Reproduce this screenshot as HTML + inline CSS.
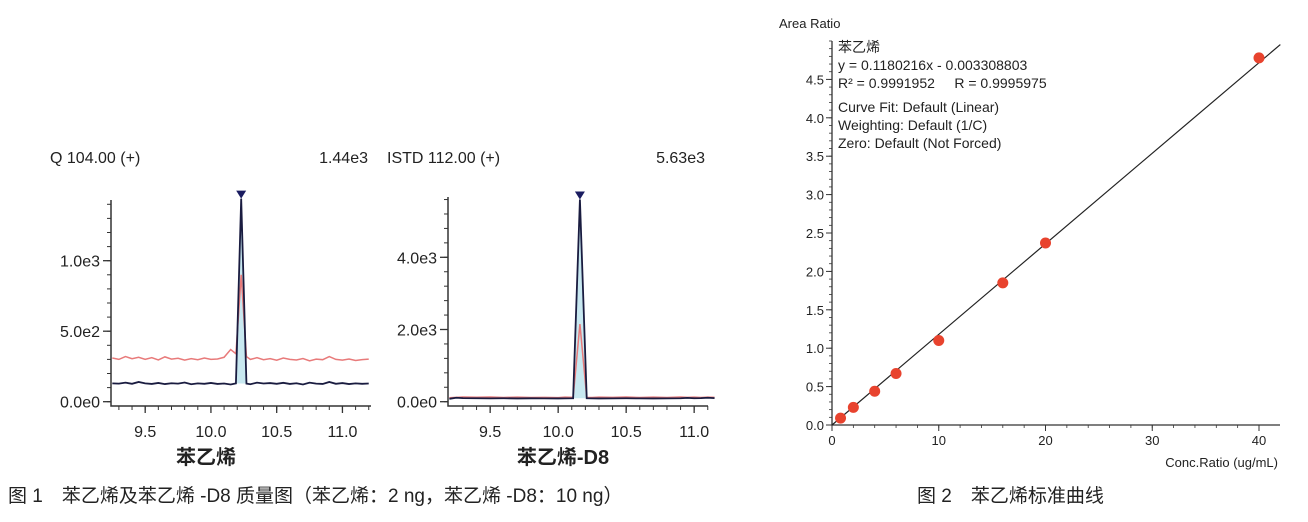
<!DOCTYPE html>
<html><head><meta charset="utf-8">
<style>
body{margin:0;background:#fff;width:1308px;height:517px;overflow:hidden;font-family:"Liberation Sans","Noto Sans CJK SC",sans-serif;}
svg text{font-family:"Liberation Sans","Noto Sans CJK SC",sans-serif;fill:#222;}
</style></head>
<body>
<svg id="svg" width="1308" height="517" viewBox="0 0 1308 517">
<g id="chromA"></g>
<g id="chromB"></g>
<g id="calib"></g>
<text x="8" y="502" font-size="19">图 1　苯乙烯及苯乙烯 -D8 质量图（苯乙烯：2 ng，苯乙烯 -D8：10 ng）</text>
<text x="917" y="502" font-size="19">图 2　苯乙烯标准曲线</text>
</svg>
<script>
// ---- Chromatogram A data (Q 104.00) ----
const aBlackT=[9.25,9.3,9.35,9.4,9.45,9.5,9.55,9.6,9.65,9.7,9.75,9.8,9.85,9.9,9.95,10.0,10.05,10.1,10.15,10.19,10.23,10.27,10.3,10.35,10.4,10.45,10.5,10.55,10.6,10.65,10.7,10.75,10.8,10.85,10.9,10.95,11.0,11.05,11.1,11.15,11.2];
const aBlackV=[130,128,135,127,140,130,126,133,125,131,128,136,124,130,127,133,126,129,122,130,1440,128,124,135,129,132,127,134,126,131,122,135,128,126,140,127,132,125,130,127,129];
const aRedT=[9.25,9.3,9.35,9.4,9.45,9.5,9.55,9.6,9.65,9.7,9.75,9.8,9.85,9.9,9.95,10.0,10.05,10.1,10.15,10.19,10.23,10.27,10.3,10.35,10.4,10.45,10.5,10.55,10.6,10.65,10.7,10.75,10.8,10.85,10.9,10.95,11.0,11.05,11.1,11.15,11.2];
const aRedV=[310,300,320,305,315,300,312,296,318,302,308,295,305,298,310,300,303,315,370,340,900,320,300,312,298,305,294,310,300,296,306,290,302,298,320,300,295,303,292,298,302];
const aTicksX=[9.5,10.0,10.5,11.0];
const aTickLabelsX=["9.5","10.0","10.5","11.0"];
const aTicksY=[0,500,1000];
const aTickLabelsY=["0.0e0","5.0e2","1.0e3"];
// ---- Chromatogram B data (ISTD 112.00) ----
const bBlackT=[9.2,9.25,9.3,9.4,9.5,9.6,9.7,9.8,9.9,10.0,10.05,10.11,10.16,10.21,10.25,10.3,10.4,10.5,10.6,10.7,10.8,10.9,10.95,11.0,11.05,11.1,11.15];
const bBlackV=[80,110,100,95,92,95,90,94,92,90,92,95,5600,95,92,90,93,95,92,90,92,95,105,95,98,110,100];
const bRedT=[9.2,9.25,9.3,9.4,9.5,9.6,9.7,9.8,9.9,10.0,10.05,10.11,10.16,10.21,10.25,10.3,10.4,10.5,10.6,10.7,10.8,10.9,10.95,11.0,11.05,11.1,11.15];
const bRedV=[110,120,130,125,130,118,128,115,120,112,125,120,2150,120,115,128,120,130,115,125,118,130,120,125,118,128,120];
const bTicksX=[9.5,10.0,10.5,11.0];
const bTickLabelsX=["9.5","10.0","10.5","11.0"];
const bTicksY=[0,2000,4000];
const bTickLabelsY=["0.0e0","2.0e3","4.0e3"];
// ---- Calibration data ----
const calX=[0.8,2,4,6,10,16,20,40];
const calY=[0.09,0.23,0.44,0.67,1.1,1.85,2.37,4.78];
const slope=0.1180216, intercept=-0.003308803;
const calTicksX=[0,10,20,30,40];
const calTicksY=[0,0.5,1,1.5,2,2.5,3,3.5,4,4.5];

const NS="http://www.w3.org/2000/svg";
function mk(parent,tag,attrs){const e=document.createElementNS(NS,tag);for(const k in attrs)e.setAttribute(k,attrs[k]);parent.appendChild(e);return e;}

function chrom(g,cfg){
  const sx=t=>cfg.x0+(t-cfg.t0)*cfg.pxT;
  const sy=v=>cfg.y0-v*cfg.pxV;
  let t=mk(g,'text',{x:cfg.titleX,y:163,'font-size':16});t.textContent=cfg.title;
  
  
  t=mk(g,'text',{x:cfg.maxX,y:163,'font-size':16,'text-anchor':'end'});t.textContent=cfg.max;
  
  
  let a=mk(g,'path',{d:`M${cfg.x0} ${cfg.top} V${cfg.axisY} H${cfg.x1}`,stroke:'#333','stroke-width':1.5,fill:'none'});
  
  
  for(let v=0;sy(v)>=cfg.top;v+=cfg.minorY){mk(g,'line',{x1:cfg.x0-4,x2:cfg.x0,y1:sy(v),y2:sy(v),stroke:'#333','stroke-width':1});}
  cfg.ticksY.forEach((v,i)=>{mk(g,'line',{x1:cfg.x0-8,x2:cfg.x0,y1:sy(v),y2:sy(v),stroke:'#333','stroke-width':1.3});
    const l=mk(g,'text',{x:cfg.x0-11,y:sy(v)+6,'font-size':16,'text-anchor':'end'});l.textContent=cfg.labelsY[i];
    
    });
  for(let tt=9.2;tt<=11.25;tt+=0.1){const x=sx(tt);if(x<cfg.x0+2||x>cfg.x1)continue;mk(g,'line',{x1:x,x2:x,y1:cfg.axisY,y2:cfg.axisY+4,stroke:'#333','stroke-width':1});}
  cfg.ticksX.forEach((v,i)=>{mk(g,'line',{x1:sx(v),x2:sx(v),y1:cfg.axisY,y2:cfg.axisY+7,stroke:'#333','stroke-width':1.3});
    const l=mk(g,'text',{x:sx(v),y:cfg.axisY+31,'font-size':16,'text-anchor':'middle'});l.textContent=cfg.labelsX[i];
    
    });
  const pi=cfg.bV.indexOf(Math.max(...cfg.bV));
  const f=mk(g,'polygon',{points:`${sx(cfg.bT[pi-1])},${sy(cfg.bV[pi-1])} ${sx(cfg.bT[pi])},${sy(cfg.bV[pi])} ${sx(cfg.bT[pi+1])},${sy(cfg.bV[pi+1])}`,fill:'#c8e8f0'});
  
  
  const r=mk(g,'polyline',{points:cfg.rT.map((tt,i)=>sx(tt)+','+sy(cfg.rV[i])).join(' '),fill:'none',stroke:'#e87a7a','stroke-width':1.5});
  
  
  const b=mk(g,'polyline',{points:cfg.bT.map((tt,i)=>sx(tt)+','+sy(cfg.bV[i])).join(' '),fill:'none',stroke:'#1a1c40','stroke-width':1.8});
  
  
  const px=sx(cfg.bT[pi]),py=sy(cfg.bV[pi]);
  const m=mk(g,'polygon',{points:`${px-5},${py-8} ${px+5},${py-8} ${px},${py}`,fill:'#1a1c60'});
  
  
  const n=mk(g,'text',{x:cfg.nameX,y:464,'font-size':20,'text-anchor':'middle','font-weight':'bold'});n.textContent=cfg.name;
  
  
}
chrom(document.getElementById('chromA'),{title:'Q 104.00 (+)',titleX:50,max:'1.44e3',maxX:368,x0:111,x1:371,t0:9.24,pxT:131.5,y0:401.7,pxV:0.141,top:200,axisY:406,minorY:100,ticksX:aTicksX,labelsX:aTickLabelsX,ticksY:aTicksY,labelsY:aTickLabelsY,bT:aBlackT,bV:aBlackV,rT:aRedT,rV:aRedV,name:'苯乙烯',nameX:206});
chrom(document.getElementById('chromB'),{title:'ISTD 112.00 (+)',titleX:387,max:'5.63e3',maxX:705,x0:448,x1:708,t0:9.19,pxT:136,y0:401.7,pxV:0.0361,top:197,axisY:406,minorY:400,ticksX:bTicksX,labelsX:bTickLabelsX,ticksY:bTicksY,labelsY:bTickLabelsY,bT:bBlackT,bV:bBlackV,rT:bRedT,rV:bRedV,name:'苯乙烯-D8',nameX:563});

(function(){
  const g=document.getElementById('calib');
  const X0=832,Y0=425,PX=10.675,PY=76.8,X1=1280,TOP=41;
  const sx=v=>X0+v*PX, sy=v=>Y0-v*PY;
  let t=mk(g,'text',{x:779,y:28,'font-size':13});t.textContent='Area Ratio';
  
  
  t=mk(g,'text',{x:1278,y:467,'font-size':13,'text-anchor':'end'});t.textContent='Conc.Ratio (ug/mL)';
  
  
  const ax=mk(g,'path',{d:`M${X0} ${TOP} V${Y0} H${X1}`,stroke:'#333','stroke-width':1.3,fill:'none'});
  
  
  for(let v=0;sy(v)>=TOP;v+=0.1){mk(g,'line',{x1:X0-3,x2:X0,y1:sy(v),y2:sy(v),stroke:'#333','stroke-width':0.8});}
  for(let v=0;sx(v)<=X1;v+=2){mk(g,'line',{x1:sx(v),x2:sx(v),y1:Y0,y2:Y0+3,stroke:'#333','stroke-width':0.8});}
  calTicksY.forEach(v=>{mk(g,'line',{x1:X0-6,x2:X0,y1:sy(v),y2:sy(v),stroke:'#333'});
    const l=mk(g,'text',{x:X0-8,y:sy(v)+5,'font-size':13,'text-anchor':'end'});l.textContent=v.toFixed(1);
    
    });
  calTicksX.forEach(v=>{mk(g,'line',{x1:sx(v),x2:sx(v),y1:Y0,y2:Y0+6,stroke:'#333'});
    const l=mk(g,'text',{x:sx(v),y:Y0+20,'font-size':13,'text-anchor':'middle'});l.textContent=String(v);
    
    });
  const xe=42;
  const fl=mk(g,'line',{x1:sx(0),y1:sy(Math.max(0,intercept)),x2:sx(xe),y2:sy(slope*xe+intercept),stroke:'#222','stroke-width':1.2});
  
  
  calX.forEach((x,i)=>{const c=mk(g,'circle',{cx:sx(x),cy:sy(calY[i]),r:5.5,fill:'#e8432e'});
    
    });
  const lines=[['苯乙烯',52],['y = 0.1180216x - 0.003308803',70],['R² = 0.9991952\u00a0\u00a0\u00a0\u00a0\u00a0R = 0.9995975',88],['Curve Fit: Default (Linear)',112],['Weighting: Default (1/C)',130],['Zero: Default (Not Forced)',148]];
  lines.forEach(([s,y])=>{const l=mk(g,'text',{x:838,y:y,'font-size':14});l.textContent=s;
    
    });
})();
</script>
</body></html>
